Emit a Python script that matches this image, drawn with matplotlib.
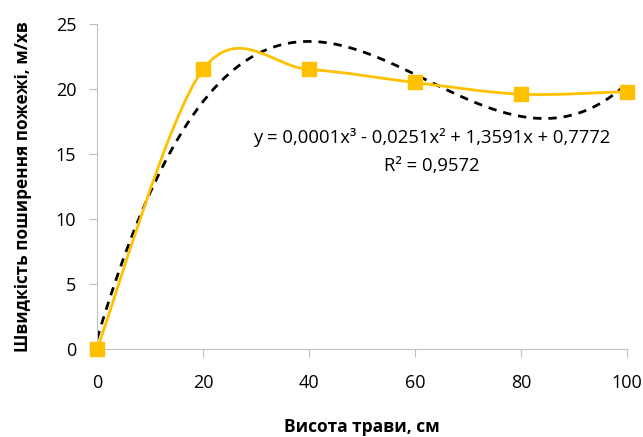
import numpy as np
import matplotlib
matplotlib.use('Agg')
import matplotlib.pyplot as plt
from matplotlib.path import Path
from matplotlib.patches import PathPatch

# Data
grass_height = [0, 20, 40, 60, 80, 100]
fire_speed = [0, 21.5, 21.5, 20.5, 19.6, 19.8]
x_ticks = [0, 20, 40, 60, 80, 100]
y_ticks = [0, 5, 10, 15, 20, 25]
eq_text = 'y = 0,0001x³ - 0,0251x² + 1,3591x + 0,7772'
r2_text = 'R² = 0,9572'

plt.rcParams['font.family'] = ['Open Sans', 'DejaVu Sans']

fig = plt.figure(figsize=(6.43, 4.37), dpi=100)
ax = fig.add_axes([0.1509, 0.2014, 0.824, 0.7437])


def smooth_path(xs, ys):
    # Excel-like smoothed line: cubic Bezier with Catmull-Rom control points
    pts = np.column_stack([xs, ys]).astype(float)
    verts = [pts[0]]
    codes = [Path.MOVETO]
    n = len(pts)
    for i in range(n - 1):
        p0 = pts[i - 1] if i > 0 else pts[i]
        p1 = pts[i]
        p2 = pts[i + 1]
        p3 = pts[i + 2] if i + 2 < n else pts[i + 1]
        c1 = p1 + (p2 - p0) / 6
        c2 = p2 - (p3 - p1) / 6
        verts += [c1, c2, p2]
        codes += [Path.CURVE4] * 3
    return Path(verts, codes)


ax.add_patch(PathPatch(smooth_path(grass_height, fire_speed), fill=False,
                       edgecolor='#FFC000', linewidth=2, zorder=3))
ax.plot(grass_height, fire_speed, linestyle='none', marker='s',
        markersize=10, color='#FFC000', zorder=4, clip_on=False)

# Polynomial trendline (3rd order)
coef = np.polyfit(grass_height, fire_speed, 3)
xx = np.linspace(0, 100, 300)
ax.plot(xx, np.polyval(coef, xx), linestyle=(0, (3, 2.5)), color='black',
        linewidth=2, zorder=2)

ax.text(0.632, 0.652, eq_text, transform=ax.transAxes, ha='center',
        va='center', fontsize=13.3)
ax.text(0.632, 0.563, r2_text, transform=ax.transAxes, ha='center',
        va='center', fontsize=13.3)

ax.set_xlim(0, 100)
ax.set_ylim(0, 25)
ax.set_xticks(x_ticks)
ax.set_yticks(y_ticks)
for s in ['top', 'right']:
    ax.spines[s].set_visible(False)
for s in ['left', 'bottom']:
    ax.spines[s].set_color('#BFBFBF')
ax.tick_params(axis='both', colors='#BFBFBF', labelcolor='black',
               labelsize=13, length=6)
ax.tick_params(axis='x', pad=12)
ax.tick_params(axis='y', pad=9)
ax.set_xlabel('Висота трави, см', fontsize=12.5, fontweight='bold', labelpad=19)
ax.set_ylabel('Швидкість поширення пожежі, м/хв', fontsize=12.3,
              fontweight='bold', labelpad=17)

fig.savefig('out.png', dpi=100)
